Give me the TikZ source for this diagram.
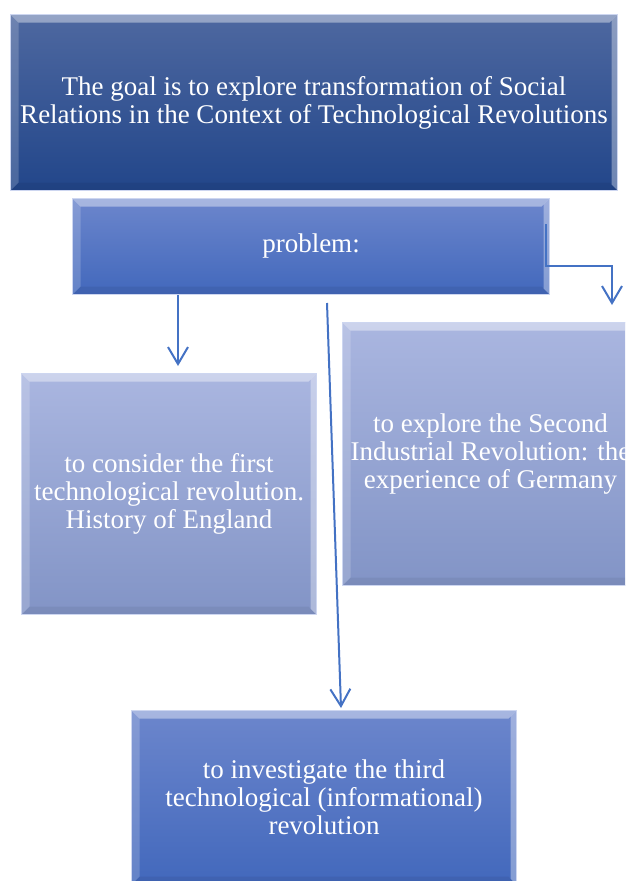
\documentclass[tikz,border=0pt]{standalone}
\usepackage{fontspec}
\setmainfont{Liberation Serif}
\usetikzlibrary{arrows.meta,calc}
\definecolor{arr}{RGB}{68,114,196}
\definecolor{edge}{RGB}{205,214,240}
\definecolor{darkT}{RGB}{78,104,160}
\definecolor{darkB}{RGB}{34,70,138}
\definecolor{midT}{RGB}{108,134,204}
\definecolor{midB}{RGB}{66,104,188}
\definecolor{lightT}{RGB}{170,182,224}
\definecolor{lightB}{RGB}{130,148,198}
\tikzset{
  bevel/.style={path picture={
    \coordinate (nw) at (path picture bounding box.north west);
    \coordinate (ne) at (path picture bounding box.north east);
    \coordinate (sw) at (path picture bounding box.south west);
    \coordinate (se) at (path picture bounding box.south east);
    \fill[white,opacity=0.4] (nw) -- (ne) -- ([xshift=-8pt,yshift=-8pt]ne) -- ([xshift=8pt,yshift=-8pt]nw) -- cycle;
    \fill[white,opacity=0.18] (nw) -- ([xshift=8pt,yshift=-8pt]nw) -- ([xshift=8pt,yshift=8pt]sw) -- (sw) -- cycle;
    \fill[black,opacity=0.06] (sw) -- ([xshift=8pt,yshift=8pt]sw) -- ([xshift=-8pt,yshift=8pt]se) -- (se) -- cycle;
    \fill[white,opacity=0.35] (ne) -- (se) -- ([xshift=-6pt,yshift=6pt]se) -- ([xshift=-6pt,yshift=-6pt]ne) -- cycle;
  }},
  box/.style={rectangle, inner sep=0pt, anchor=north west, draw=edge, line width=1pt,
    text=white, align=center, font=\fontsize{27}{28}\selectfont, shading=axis, bevel},
  darkbox/.style={box, top color=darkT, bottom color=darkB},
  midbox/.style={box, top color=midT, bottom color=midB},
  lightbox/.style={box, top color=lightT, bottom color=lightB},
  conn/.style={draw=arr, line width=2pt, -{Straight Barb[length=17pt,width=20pt]}},
}
\begin{document}
\begin{tikzpicture}[x=1pt,y=-1pt]
\useasboundingbox (0,0) rectangle (625,881);
\clip (0,0) rectangle (625,881);
\node[darkbox, minimum width=607pt, minimum height=176pt] (goal) at (10,14)
  {The goal is to explore transformation of Social\\Relations in the Context of Technological Revolutions};
\node[midbox, minimum width=477pt, minimum height=96pt] (prob) at (72,198) {problem:};
\node[lightbox, minimum width=295pt, minimum height=241pt] (lft) at (21,373)
  {to consider the first\\technological revolution.\\History of England};
\node[lightbox, minimum width=296pt, minimum height=263pt] (rgt) at (342,322)
  {to explore the Second\\Industrial Revolution: the\\experience of Germany};
\node[midbox, minimum width=385pt, minimum height=174pt] (bot) at (131,710)
  {to investigate the third\\technological (informational)\\revolution};
% connectors
\coordinate (a1s) at ($(prob.south west)+(106,0)$);
\coordinate (a1e) at ($(lft.north west)+(157,-7)$);
\draw[conn] (a1s) -- (a1e);
\coordinate (a2s) at ($(prob.south west)+(255,8)$);
\coordinate (a2e) at ($(bot.north west)+(210,-2)$);
\draw[conn] (a2s) -- (a2e);
\coordinate (a3s) at ($(prob.north east)+(-4,26)$);
\coordinate (a3b) at ($(rgt.north west)+(270,-56)$);
\coordinate (a3e) at ($(rgt.north west)+(270,-17)$);
\draw[conn] (a3s) |- (a3b) -- (a3e);
\end{tikzpicture}
\end{document}
